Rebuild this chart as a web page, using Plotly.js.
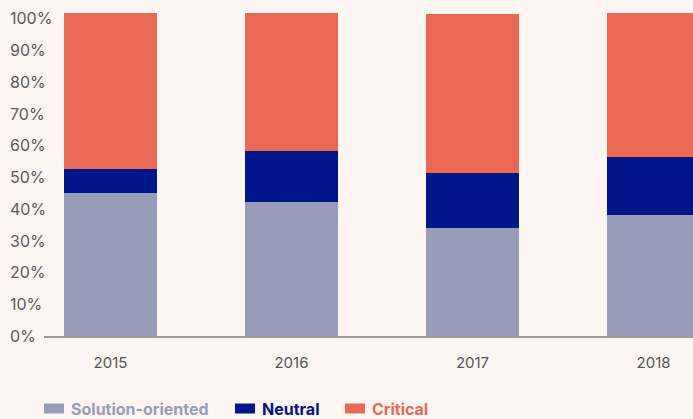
<!DOCTYPE html>
<html>
<head>
<meta charset="utf-8">
<script src="https://cdn.plot.ly/plotly-3.0.1.min.js"></script>
<style>
  html, body { margin: 0; padding: 0; background: #fdf5f2; }
  #chart { width: 693px; height: 419px; }
</style>
</head>
<body>
<div id="chart"></div>
<script>
const years = ['2015', '2016', '2017', '2018'];
const seriesNames = ['Solution-oriented', 'Neutral', 'Critical'];
const solutionOriented = [45.0, 42.2, 34.0, 38.0];
const neutral = [7.5, 16.0, 17.3, 18.3];
const critical = [49.1, 43.4, 50.0, 45.3];
const yTickVals = [0, 10, 20, 30, 40, 50, 60, 70, 80, 90, 100];
const yTickText = ['0%', '10%', '20%', '30%', '40%', '50%', '60%', '70%', '80%', '90%', '100%'];
const colors = ['#979cb9', '#001689', '#e96955'];

const W = 693, H = 419;
const M = { l: 44, r: 0, t: 12, b: 83 };
const plotW = W - M.l - M.r, plotH = H - M.t - M.b;
const px2x = px => (px - M.l) / plotW;
const py2y = py => (H - M.b - py) / plotH;

const values = [solutionOriented, neutral, critical];
const traces = values.map((v, i) => ({
  type: 'bar',
  x: years,
  y: v,
  name: seriesNames[i],
  marker: { color: colors[i], line: { width: 0 } },
  showlegend: false,
  hoverinfo: 'y'
}));

// y tick labels, left-aligned as in the reference
const annotations = yTickVals.map((v, i) => ({
  xref: 'paper', yref: 'y',
  x: 0, y: v, xshift: -36,
  xanchor: 'left', yanchor: 'middle',
  text: yTickText[i], showarrow: false,
  font: { size: 16, color: '#5a5a5a' }
}));

// custom legend (wide rectangular swatches, coloured bold labels)
const legendSwatchX = [44, 235, 345];
const shapes = [];
seriesNames.forEach((n, i) => {
  const sx = legendSwatchX[i];
  shapes.push({
    type: 'rect', xref: 'paper', yref: 'paper',
    x0: px2x(sx), x1: px2x(sx + 20),
    y0: py2y(413.5), y1: py2y(403.5),
    fillcolor: colors[i], line: { width: 0 }
  });
  annotations.push({
    xref: 'paper', yref: 'paper',
    x: px2x(sx + 25), y: py2y(408.5),
    xanchor: 'left', yanchor: 'middle',
    text: '<b>' + n + '</b>', showarrow: false,
    font: { size: 16, color: colors[i] }
  });
});

const layout = {
  width: W,
  height: H,
  barmode: 'stack',
  bargap: 0.486,
  paper_bgcolor: '#fdf5f2',
  plot_bgcolor: '#fdf5f2',
  margin: M,
  font: { family: 'Inter, Lato, sans-serif', size: 15, color: '#555555' },
  xaxis: {
    type: 'category',
    range: [-0.367, 3.218],
    showgrid: false,
    showline: true,
    linecolor: '#9a9a9a',
    linewidth: 1.5,
    ticks: '',
    ticklabelstandoff: 12,
    tickfont: { size: 15, color: '#555555' },
    zeroline: false
  },
  yaxis: {
    range: [0, 102],
    tickvals: yTickVals,
    showticklabels: false,
    showgrid: false,
    zeroline: false,
    showline: false,
    ticks: ''
  },
  showlegend: false,
  annotations: annotations,
  shapes: shapes
};

Plotly.newPlot('chart', traces, layout, { displayModeBar: false, staticPlot: true });
</script>
</body>
</html>
